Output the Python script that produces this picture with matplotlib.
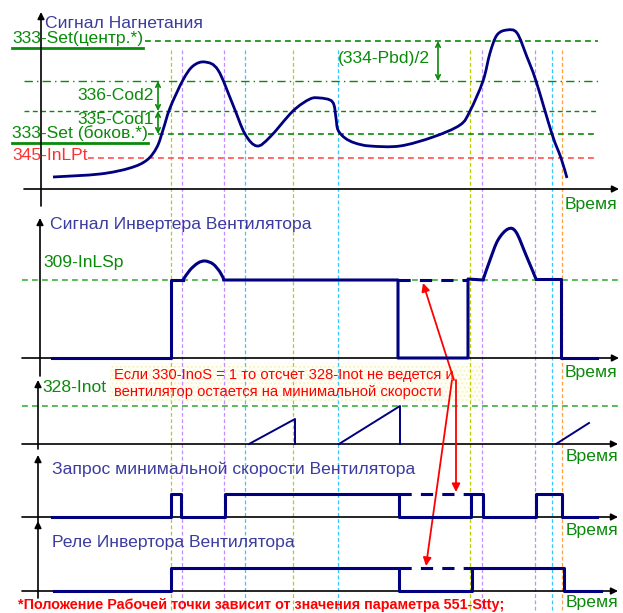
import matplotlib
matplotlib.use('Agg')
import matplotlib.pyplot as plt
from matplotlib.path import Path
from matplotlib.patches import PathPatch, Rectangle
from matplotlib.transforms import Affine2D

plt.rcParams['font.family'] = ['Liberation Sans', 'DejaVu Sans']

# ---------------- data (time in px-like units, values = height above each panel's axis) -------------
pressure_t = [53, 100, 130, 147, 157, 163, 170, 183, 193, 205, 218, 233, 245, 257, 270, 293, 310, 320,
              330, 334, 336, 338, 345, 355, 370, 400, 433, 460, 470, 483, 490, 497, 507, 517, 527, 536,
              552, 561, 567]
pressure_v = [12, 15, 21, 29, 42, 59, 81, 109, 123, 127, 119, 84, 55, 43, 52, 78, 90, 91,
              89, 84, 71, 59, 51, 46, 43, 43, 52, 64, 78, 108, 136, 154, 159, 156, 132, 108,
              55, 31, 11]
level_set_center = 148
level_cod2 = 108
level_cod1 = 78
level_set_side = 55
level_inlpt = 31

inv_min = 78
inv_step_t = [52, 171, 171, 183]
inv_step_v = [0, 0, 78, 78]
inv_bump1_t = [183, 190, 198, 205, 213, 220, 224]
inv_bump1_v = [78, 88, 95, 97, 94, 86, 78]
inv_mid_t = [224, 398, 398, 468, 468, 483]
inv_mid_v = [78, 78, 0, 0, 79, 78]
inv_bump2_t = [483, 490, 498, 508, 516, 526, 536]
inv_bump2_v = [78, 98, 118, 129, 126, 103, 79]
inv_end_t = [536, 561, 561, 597]
inv_end_v = [79, 79, 0, 0]
inv_dash_t = [398, 468]

inot_level = 38
inot_ramps = [([249, 295, 295], [0, 25, 0]), ([339, 400, 400], [0, 38, 0]), ([556, 589], [0, 21])]

minreq_t = [52, 171, 171, 181, 181, 225, 225, 399, 399, 471, 471, 483, 483, 536, 536, 562, 562, 597]
minreq_v = [0, 0, 23, 23, 0, 0, 23, 23, 0, 0, 23, 23, 0, 0, 23, 23, 0, 0]
minreq_dash_t = [399, 471]

relay_t = [54, 171, 171, 399, 399, 472, 472, 564, 564, 601]
relay_v = [0, 0, 23, 23, 0, 0, 23, 23, 0, 0]
relay_dash_t = [399, 472]

event_t = [171, 182, 224, 245, 293, 338, 470, 482, 535, 552, 562]
event_c = ['#bccc00', '#c38cff', '#c38cff', '#33c8ff', '#bccc00', '#33c8ff',
           '#bccc00', '#c38cff', '#c38cff', '#33c8ff', '#ffa040']

panel_base = [189, 358, 444, 517, 591]

# ---------------- figure -------------
fig = plt.figure(figsize=(6.23, 6.13), dpi=100)
ax = fig.add_axes([0, 0, 1, 1])
ax.set_xlim(0, 623)
ax.set_ylim(613, 0)
ax.axis('off')

NAVY = '#000080'
TITLE = '#3c3ca0'
GREEN = '#0a8a0a'
RED = '#ff0000'
FS = 12.6


def ptr(base):
    return Affine2D().scale(1, -1).translate(0, base) + ax.transData


def smooth_path(xs, ys):
    pts = list(zip(xs, ys))
    verts = [pts[0]]
    codes = [Path.MOVETO]
    n = len(pts)
    for i in range(n - 1):
        p0 = pts[i - 1] if i > 0 else pts[i]
        p1 = pts[i]
        p2 = pts[i + 1]
        p3 = pts[i + 2] if i + 2 < n else pts[i + 1]
        c1 = (p1[0] + (p2[0] - p0[0]) / 6, p1[1] + (p2[1] - p0[1]) / 6)
        c2 = (p2[0] - (p3[0] - p1[0]) / 6, p2[1] - (p3[1] - p1[1]) / 6)
        verts += [c1, c2, p2]
        codes += [Path.CURVE4] * 3
    return Path(verts, codes)


def arrow(x0, y0, x1, y1, color='k', lw=1.2, style='-|>', ms=10):
    ax.annotate('', xy=(x1, y1), xytext=(x0, y0),
                arrowprops=dict(arrowstyle=style, color=color, lw=lw, mutation_scale=ms,
                                shrinkA=0, shrinkB=0))

# event vertical lines
for x, c in zip(event_t, event_c):
    ax.plot([x, x], [50, 613], color=c, lw=0.9, ls=(0, (3, 2)), zorder=1)

# ---------------- panel 1 -------------
b = panel_base[0]
arrow(41, 206, 41, 12)
arrow(24, b, 619, b)
tr = ptr(b)
dash = (0, (3.5, 2.5))
ax.plot([145, 598], [level_set_center] * 2, color=GREEN, lw=1.2, ls=dash, transform=tr, zorder=2)
ax.plot([24, 598], [level_cod2] * 2, color=GREEN, lw=1.0, ls=(0, (6, 3, 1, 3)), transform=tr, zorder=2)
ax.plot([24, 598], [level_cod1] * 2, color=GREEN, lw=1.0, ls=dash, transform=tr, zorder=2)
ax.plot([148, 598], [level_set_side] * 2, color=GREEN, lw=1.2, ls=dash, transform=tr, zorder=2)
ax.plot([88, 595], [level_inlpt] * 2, color='#ff5050', lw=1.2, ls=dash, transform=tr, zorder=2)
ax.add_patch(PathPatch(smooth_path(pressure_t, pressure_v), fill=False, ec=NAVY, lw=2.0,
                       transform=tr, zorder=4))

ax.text(45, 23, 'Сигнал Нагнетания', color=TITLE, fontsize=FS, va='center')
ax.text(12, 39, '333-Set(центр.*)', color=GREEN, fontsize=FS, va='center')
ax.plot([12, 143], [48, 48], color=GREEN, lw=2)
ax.text(12, 133, '333-Set (боков.*)', color=GREEN, fontsize=FS, va='center')
ax.plot([12, 148], [143, 143], color=GREEN, lw=2)
ax.text(12, 156, '345-InLPt', color='#ff3030', fontsize=FS, va='center')
ax.text(154, 96, '336-Cod2', color=GREEN, fontsize=FS, va='center', ha='right')
ax.text(154, 119, '335-Cod1', color=GREEN, fontsize=FS, va='center', ha='right')
ax.text(338, 59, '(334-Pbd)/2', color=GREEN, fontsize=FS, va='center')
arrow(158, b - level_cod1, 158, b - level_cod2, color=GREEN, style='<->', ms=8)
arrow(158, b - level_set_side, 158, b - level_cod1, color=GREEN, style='<->', ms=8)
arrow(438, b - level_cod2, 438, b - level_set_center, color=GREEN, style='<->', ms=8)
ax.text(565, 205, 'Время', color=GREEN, fontsize=FS, va='center')

# ---------------- panel 2 -------------
b = panel_base[1]
tr = ptr(b)
arrow(40, 376, 40, 218)
arrow(22, b, 619, b)
ax.plot([22, 620], [inv_min] * 2, color='#3cb03c', lw=1.2, ls=dash, transform=tr, zorder=2)
ax.plot(inv_step_t, inv_step_v, color=NAVY, lw=2.2, transform=tr, zorder=4)
ax.add_patch(PathPatch(smooth_path(inv_bump1_t, inv_bump1_v), fill=False, ec=NAVY, lw=2.2,
                       transform=tr, zorder=4))
ax.plot(inv_mid_t, inv_mid_v, color=NAVY, lw=2.2, transform=tr, zorder=4)
ax.add_patch(PathPatch(smooth_path(inv_bump2_t, inv_bump2_v), fill=False, ec=NAVY, lw=2.2,
                       transform=tr, zorder=4))
ax.plot(inv_end_t, inv_end_v, color=NAVY, lw=2.2, transform=tr, zorder=4)
ax.plot(inv_dash_t, [inv_min] * 2, color=NAVY, lw=2.2, ls=(0, (4, 3)), transform=tr, zorder=4)
ax.text(50, 225, 'Сигнал Инвертера Вентилятора', color=TITLE, fontsize=FS, va='center')
ax.text(43, 262, '309-InLSp', color=GREEN, fontsize=FS, va='center')
ax.text(565, 373, 'Время', color=GREEN, fontsize=FS, va='center')

# ---------------- panel 3 -------------
b = panel_base[2]
tr = ptr(b)
ax.add_patch(Rectangle((110, 363), 373, 39, facecolor='#fffff8', edgecolor='#f6f3c6', hatch='....',
                       lw=0, zorder=0.5))
arrow(38, 449, 38, 380)
arrow(22, b, 618, b)
ax.plot([22, 622], [inot_level] * 2, color='#3cb03c', lw=1.2, ls=dash, transform=tr, zorder=2)
for t, v in inot_ramps:
    ax.plot(t, v, color=NAVY, lw=1.4, transform=tr, zorder=4)
ax.text(42, 387, '328-Inot', color=GREEN, fontsize=FS, va='center')
ax.text(114, 375, 'Если 330-InoS = 1 то отсчет 328-Inot не ведется и', color=RED, fontsize=10.6,
        va='center')
ax.text(114, 392, 'вентилятор остается на минимальной скорости', color=RED, fontsize=10.6,
        va='center')
ax.text(566, 457, 'Время', color=GREEN, fontsize=FS, va='center')

# ---------------- panel 4 -------------
b = panel_base[3]
tr = ptr(b)
arrow(38, 522, 38, 455)
arrow(22, b, 618, b)
ax.plot(minreq_t, minreq_v, color=NAVY, lw=2.2, transform=tr, zorder=4)
ax.plot(minreq_dash_t, [23, 23], color=NAVY, lw=2.2, ls=(0, (4, 3)), transform=tr, zorder=4)
ax.text(52, 469, 'Запрос минимальной скорости Вентилятора', color=TITLE, fontsize=FS, va='center')
ax.text(566, 530, 'Время', color=GREEN, fontsize=FS, va='center')

# ---------------- panel 5 -------------
b = panel_base[4]
tr = ptr(b)
arrow(38, 598, 38, 521)
arrow(22, b, 618, b)
ax.plot(relay_t, relay_v, color=NAVY, lw=2.2, transform=tr, zorder=4)
ax.plot(relay_dash_t, [23, 23], color=NAVY, lw=2.2, ls=(0, (4, 3)), transform=tr, zorder=4)
ax.text(52, 543, 'Реле Инвертора Вентилятора', color=TITLE, fontsize=FS, va='center')
ax.text(566, 602, 'Время', color=GREEN, fontsize=FS, va='center')

# red arrows
arrow(454, 380, 423, 283, color=RED, lw=1.3, ms=12)
arrow(456, 380, 456, 492, color=RED, lw=1.3, ms=12)
arrow(452, 380, 426, 566, color=RED, lw=1.3, ms=12)

ax.text(18, 612, '*Положение Рабочей точки зависит от значения параметра 551-Stty;', color=RED,
        fontsize=10.4, fontweight='bold', va='bottom')

fig.savefig('out.png', dpi=100)
